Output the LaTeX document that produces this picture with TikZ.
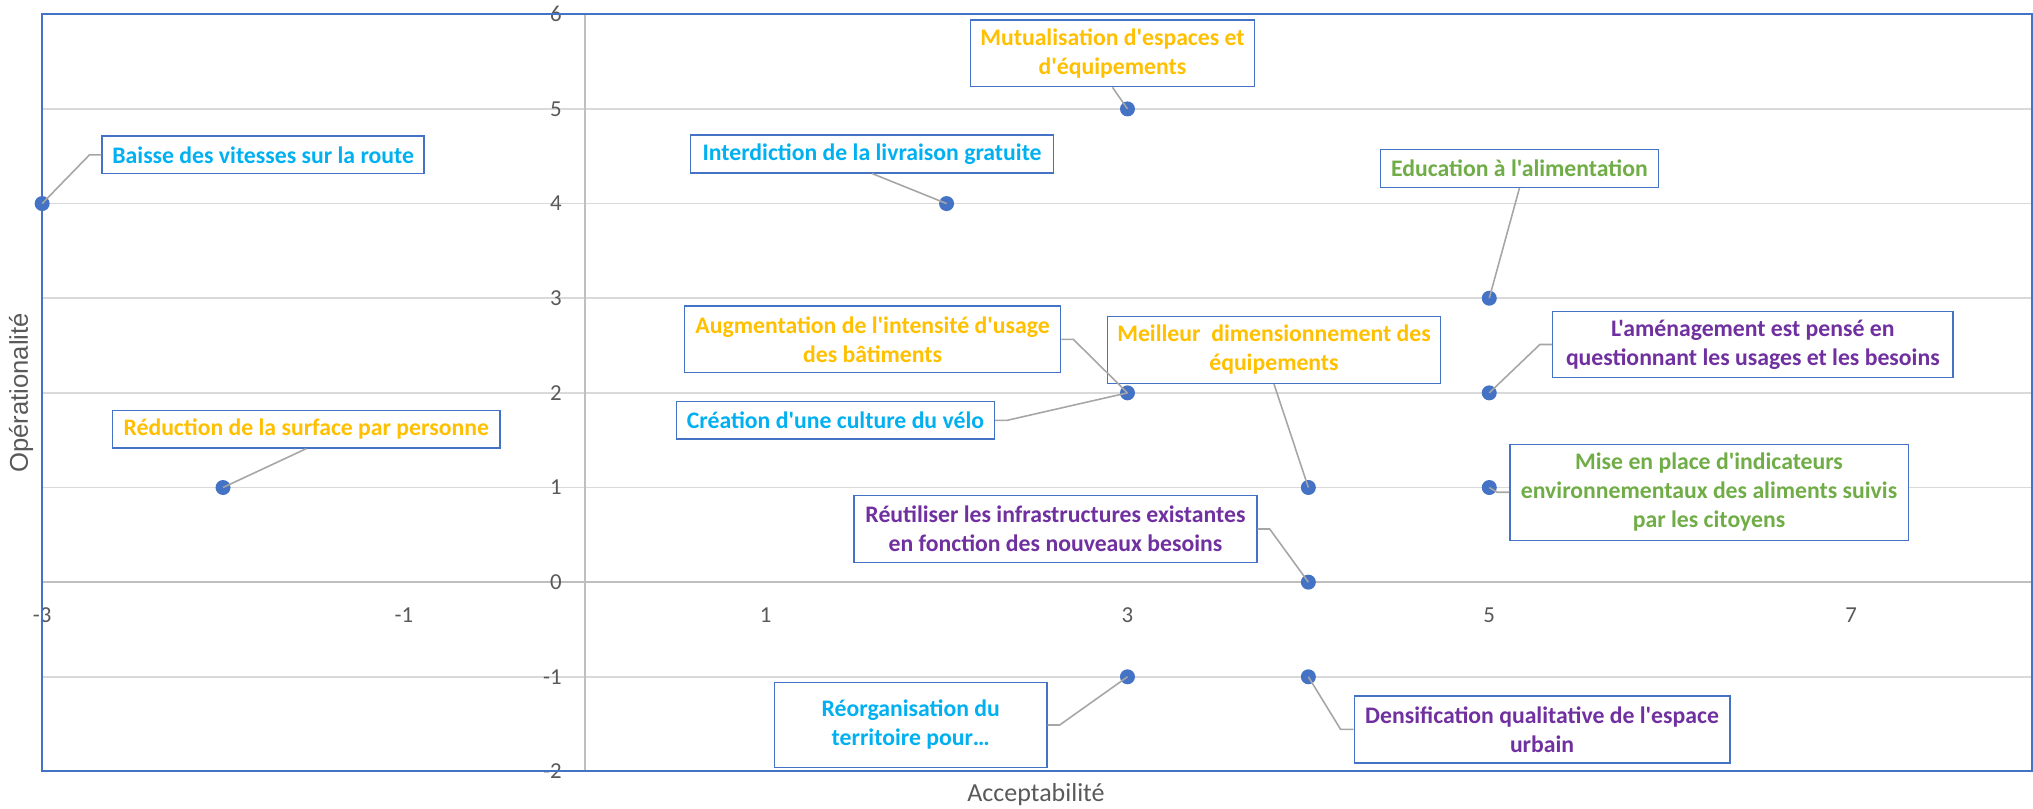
\documentclass[tikz,border=0pt]{standalone}
\usepackage{fontspec}
\setmainfont{Carlito}[Ligatures=TeXOff]
\newfontfamily\ytitlefont{Liberation Sans}
\usepackage{xcolor}
\usepackage{tikz}
\usetikzlibrary{positioning}

\definecolor{xlblue}{HTML}{4472C4}
\definecolor{xlcyan}{HTML}{00B0F0}
\definecolor{xlgold}{HTML}{FFC000}
\definecolor{xlgreen}{HTML}{70AD47}
\definecolor{xlpurple}{HTML}{7030A0}
\definecolor{gridgray}{HTML}{D9D9D9}
\definecolor{axisgray}{HTML}{BFBFBF}
\definecolor{leadgray}{HTML}{A6A6A6}
\definecolor{textgray}{HTML}{595959}

\begin{document}
\begin{tikzpicture}[
    x=3.618cm, y=1.893cm,
    lbl/.style={rectangle, draw=xlblue, line width=0.8pt, fill=white, inner sep=2pt, align=center, font=\fontsize{13.5}{16.5}\selectfont\bfseries},
    datapt/.style={circle, fill=xlblue, inner sep=0pt, minimum size=0.3cm},
    leader/.style={leadgray, line width=0.9pt},
    ticklbl/.style={font=\fontsize{13}{15}\selectfont, text=textgray, inner sep=0pt},
]
    \useasboundingbox (-3.233,-2.396) rectangle (8.006,6.151);

    % Grid and axes
    \foreach \y in {-1,1,2,3,4,5}
        \draw[gridgray, line width=1pt] (-3,\y) -- (8,\y);
    \draw[axisgray, line width=1pt] (-3,0) -- (8,0);
    \draw[axisgray, line width=1pt] (0,-2) -- (0,6);

    % Tick labels
    \foreach \y in {-2,...,6}
        \node[ticklbl, anchor=east] (yt\y) at (-0.126,\y) {\y};
    \foreach \x in {-3,-1,1,3,5,7}
        \node[ticklbl] (xt\x) at (\x,-0.347) {\x};

    % Axis titles
    \node[font=\fontsize{14.8}{17}\selectfont, text=textgray] (xtitle) at (2.494,-2.248) {Acceptabilité};
    \node[font=\ytitlefont\fontsize{14.6}{17}\selectfont, text=textgray, rotate=90] (ytitle) at (-3.117,2.0) {Opérationalité};

    % Plot frame
    \draw[xlblue, line width=1.2pt] (-3,-2) rectangle (8,6);

    % Data points
    \node[datapt] (pBaisse) at (-3,4) {};
    \node[datapt] (pReduction) at (-2,1) {};
    \node[datapt] (pInterdiction) at (2,4) {};
    \node[datapt] (pMutualisation) at (3,5) {};
    \node[datapt] (pBatiments) at (3,2) {};
    \node[datapt] (pReorganisation) at (3,-1) {};
    \node[datapt] (pMeilleur) at (4,1) {};
    \node[datapt] (pReutiliser) at (4,0) {};
    \node[datapt] (pDensification) at (4,-1) {};
    \node[datapt] (pEducation) at (5,3) {};
    \node[datapt] (pAmenagement) at (5,2) {};
    \node[datapt] (pMiseplace) at (5,1) {};

    % Data labels
    \node[lbl, text=xlcyan, minimum width=6.44cm, minimum height=0.754cm] (baisse) at (-1.778,4.515) {Baisse des vitesses sur la route};
    \node[lbl, text=xlgold, minimum width=7.75cm, minimum height=0.754cm] (reduction) at (-1.540,1.617) {Réduction de la surface par personne};
    \node[lbl, text=xlcyan, minimum width=7.26cm, minimum height=0.754cm] (interdiction) at (1.588,4.524) {Interdiction de la livraison gratuite};
    \node[lbl, text=xlgold, minimum width=5.68cm, minimum height=1.334cm] (mutualisation) at (2.917,5.588) {Mutualisation d'espaces et\\d'équipements};
    \node[lbl, text=xlgreen, minimum width=5.56cm, minimum height=0.754cm] (education) at (5.167,4.371) {Education à l'alimentation};
    \node[lbl, text=xlgold, minimum width=7.52cm, minimum height=1.334cm] (augmentation) at (1.591,2.566) {Augmentation de l'intensité d'usage\\des bâtiments};
    \node[lbl, text=xlgold, minimum width=6.65cm, minimum height=1.334cm] (meilleur) at (3.810,2.453) {Meilleur~ dimensionnement des\\équipements};
    \node[lbl, text=xlpurple, minimum width=8.01cm, minimum height=1.33cm] (amenagement) at (6.457,2.511) {L'aménagement est pensé en\\questionnant les usages et les besoins};
    \node[lbl, text=xlcyan, minimum width=6.36cm, minimum height=0.75cm] (creation) at (1.386,1.710) {Création d'une culture du vélo};
    \node[lbl, text=xlgreen, minimum width=7.97cm, minimum height=1.92cm] (miseplace) at (6.215,0.950) {Mise en place d'indicateurs\\environnementaux des aliments suivis\\par les citoyens};
    \node[lbl, text=xlpurple, minimum width=8.06cm, minimum height=1.334cm] (reutiliser) at (2.602,0.562) {Réutiliser les infrastructures existantes\\en fonction des nouveaux besoins};
    \node[lbl, text=xlcyan, minimum width=5.45cm, minimum height=1.694cm] (reorganisation) at (1.802,-1.509) {Réorganisation du\\territoire pour…};
    \node[lbl, text=xlpurple, minimum width=7.51cm, minimum height=1.34cm] (densification) at (5.292,-1.556) {Densification qualitative de l'espace\\urbain};

    % Leader lines
    \draw[leader] (baisse.west) -- ++(-0.24cm,0) -- (pBaisse.center);
    \draw[leader] (reduction.south) -- (pReduction.center);
    \draw[leader] (interdiction.south) -- (pInterdiction.center);
    \draw[leader] (mutualisation.south) -- (pMutualisation.center);
    \draw[leader] (education.south) -- (pEducation.center);
    \draw[leader] (augmentation.east) -- ++(0.24cm,0) -- (pBatiments.center);
    \draw[leader] (creation.east) -- ++(0.24cm,0) -- (pBatiments.center);
    \draw[leader] (meilleur.south) -- (pMeilleur.center);
    \draw[leader] (amenagement.west) -- ++(-0.24cm,0) -- (pAmenagement.center);
    \draw[leader] (miseplace.west) -- ++(-0.24cm,0) -- (pMiseplace.center);
    \draw[leader] (reutiliser.east) -- ++(0.24cm,0) -- (pReutiliser.center);
    \draw[leader] (reorganisation.east) -- ++(0.24cm,0) -- (pReorganisation.center);
    \draw[leader] (densification.west) -- ++(-0.26cm,0) -- (pDensification.center);
\end{tikzpicture}
\end{document}
